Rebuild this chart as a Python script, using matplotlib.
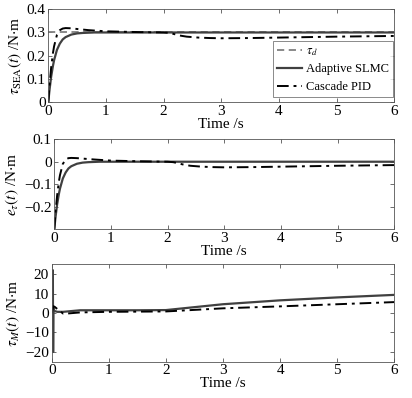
import matplotlib
matplotlib.use("Agg")
import matplotlib.pyplot as plt

plt.rcParams['font.family'] = ['Liberation Serif', 'DejaVu Serif']
plt.rcParams['mathtext.fontset'] = 'stix'

# ---- data ----
t_ref = [0.0, 6.0]
tau_d = [0.3, 0.3]

t_slmc1 = [0, 0.02, 0.05, 0.08, 0.1, 0.15, 0.2, 0.25, 0.3, 0.4, 0.5, 0.6, 0.8, 1.0, 2.0, 6.0]
tau_slmc = [0, 0.05, 0.11, 0.155, 0.18, 0.225, 0.252, 0.27, 0.28, 0.291, 0.296, 0.298, 0.3, 0.3, 0.3, 0.3]

t_pid1 = [0, 0.02, 0.05, 0.08, 0.1, 0.15, 0.2, 0.25, 0.3, 0.4, 0.5, 0.7, 1.0, 1.5, 2.0, 2.1,
          2.2, 2.3, 2.4, 2.6, 2.8, 3.0, 3.5, 4.0, 5.0, 6.0]
tau_pid = [0, 0.07, 0.15, 0.21, 0.24, 0.29, 0.31, 0.317, 0.319, 0.318, 0.315, 0.31, 0.305, 0.302,
           0.3, 0.298, 0.292, 0.286, 0.282, 0.278, 0.276, 0.275, 0.276, 0.278, 0.282, 0.285]

t_slmc2 = [0, 0.02, 0.05, 0.08, 0.1, 0.15, 0.2, 0.25, 0.3, 0.4, 0.5, 0.6, 0.8, 1.0, 2.0, 6.0]
e_slmc = [-0.3, -0.25, -0.19, -0.145, -0.12, -0.075, -0.048, -0.03, -0.02, -0.009, -0.004, -0.002, 0, 0, 0, 0]

t_pid2 = [0, 0.02, 0.05, 0.08, 0.1, 0.15, 0.2, 0.25, 0.3, 0.4, 0.5, 0.7, 1.0, 1.5, 2.0, 2.1,
          2.2, 2.3, 2.4, 2.6, 2.8, 3.0, 3.5, 4.0, 5.0, 6.0]
e_pid = [-0.3, -0.23, -0.15, -0.09, -0.06, -0.01, 0.01, 0.016, 0.017, 0.016, 0.014, 0.01, 0.005, 0.002,
         0, -0.002, -0.008, -0.014, -0.018, -0.022, -0.024, -0.025, -0.024, -0.022, -0.018, -0.015]

t_slmc3 = [0.02, 0.02, 0.025, 0.03, 0.05, 0.1, 0.2, 0.5, 1.0, 1.5, 2.0, 2.5, 3.0, 4.0, 5.0, 6.0]
tauM_slmc = [0, 22, -20, 2.5, 1.0, 0.6, 0.6, 1.4, 1.4, 1.4, 1.5, 3.0, 4.5, 6.5, 8.0, 9.3]

t_pid3 = [0, 0.03, 0.06, 0.1, 0.2, 0.3, 0.5, 1.0, 1.5, 2.0, 2.5, 3.0, 4.0, 5.0, 6.0]
tauM_pid = [0, 3.5, 3.0, 2.0, -0.3, -0.2, 0.3, 0.6, 0.7, 0.8, 1.6, 2.4, 3.4, 4.5, 5.6]

time_ticks = [0, 1, 2, 3, 4, 5, 6]

# ---- figure ----
W, H = 412, 398
fig = plt.figure(figsize=(W / 100, H / 100), dpi=100)

def rect(l, t, r, b):
    return [l / W, 1 - b / H, (r - l) / W, (b - t) / H]

ax1 = fig.add_axes(rect(48.3, 9.3, 394.3, 102))
ax2 = fig.add_axes(rect(54.3, 139.3, 394.3, 229))
ax3 = fig.add_axes(rect(51.7, 264.3, 394.3, 361.7))

c_ref = '#808080'
c_slmc = '#404040'
c_pid = 'black'
dashdot = (0, (6, 2.5, 1.5, 2.5))

ax1.plot(t_ref, tau_d, color=c_ref, ls=(0, (4, 2.5)), lw=1.3, label=r'$\tau_d$')
ax1.plot(t_slmc1, tau_slmc, color=c_slmc, ls='-', lw=1.6, label='Adaptive SLMC')
ax1.plot(t_pid1, tau_pid, color=c_pid, ls=dashdot, lw=1.4, label='Cascade PID')

ax2.plot(t_slmc2, e_slmc, color=c_slmc, ls='-', lw=1.6)
ax2.plot(t_pid2, e_pid, color=c_pid, ls=dashdot, lw=1.4)

ax3.plot(t_slmc3, tauM_slmc, color=c_slmc, ls='-', lw=1.6)
ax3.plot(t_pid3, tauM_pid, color=c_pid, ls=dashdot, lw=1.4)

ax1.set_ylim(0, 0.4)
ax1.set_yticks([0, 0.1, 0.2, 0.3, 0.4])
ax1.set_yticklabels(['0', '0.1', '0.2', '0.3', '0.4'])
ax2.set_ylim(-0.3, 0.1)
ax2.set_yticks([-0.2, -0.1, 0, 0.1])
ax2.set_yticklabels(['\u22120.2', '\u22120.1', '0', '0.1'])
ax3.set_ylim(-25, 25)
ax3.set_yticks([-20, -10, 0, 10, 20])
ax3.set_yticklabels(['\u221220', '\u221210', '0', '10', '20'])

ylabels = [r'$\tau_{\mathrm{SEA}}(t)$ /N$\cdot$m', r'$e_{\tau}(t)$ /N$\cdot$m', r'$\tau_M(t)$ /N$\cdot$m']
for ax, yl in zip([ax1, ax2, ax3], ylabels):
    ax.set_xlim(0, 6)
    ax.set_xticks(time_ticks)
    ax.set_xticklabels([str(v) for v in time_ticks])
    ax.tick_params(direction='in', top=True, right=True, labelsize=11, length=3,
                   width=0.6, color='#555555', pad=2)
    for s in ax.spines.values():
        s.set_linewidth(0.6)
        s.set_color('#555555')
    ax.set_xlabel('Time /s', fontsize=11, labelpad=0)
    ax.set_ylabel(yl, fontsize=11, labelpad=2)

leg = ax1.legend(loc='lower right', fontsize=9, frameon=True, fancybox=False,
                 edgecolor='#555555', handlelength=2.0, handletextpad=0.3,
                 borderpad=0.35, labelspacing=0.45, borderaxespad=0,
                 bbox_to_anchor=(0.997, 0.05))
leg.get_frame().set_linewidth(0.6)

fig.savefig('out.png', dpi=100)
